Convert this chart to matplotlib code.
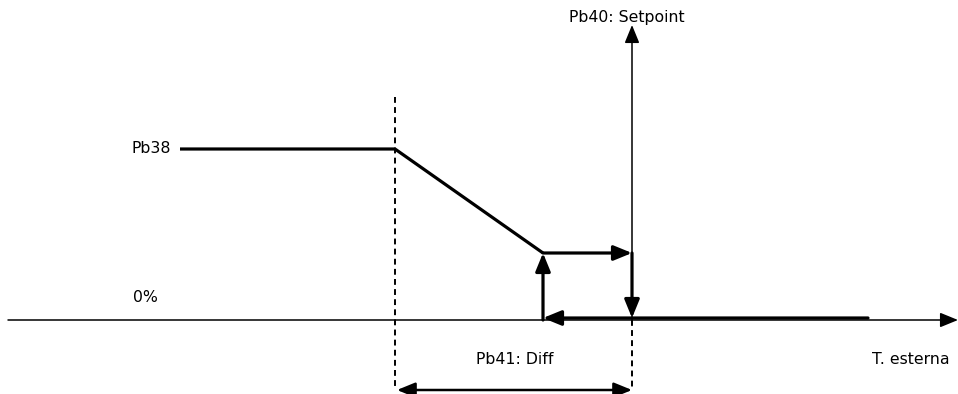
import matplotlib.pyplot as plt

# diagram geometry in pixel units (x right, y down)
axis_y = 320
x_pb38_start = 180
x_pb38_end = 395
y_pb38 = 149
x_diff_start = 543
x_setpoint = 632
y_low = 253
x_return_end = 868
y_dim = 390

labels = ["Pb40: Setpoint", "Pb38", "0%", "Pb41: Diff", "T. esterna"]

fig = plt.figure(figsize=(9.58, 3.94), dpi=100)
ax = fig.add_axes([0, 0, 1, 1])
ax.set_xlim(0, 958)
ax.set_ylim(394, 0)
ax.axis("off")

head = "-|>,head_length=1.1,head_width=0.45"

# horizontal axis
ax.annotate("", xy=(958, axis_y), xytext=(8, axis_y),
            arrowprops=dict(arrowstyle=head, color="black", lw=1.1, shrinkA=0, shrinkB=0))

# setpoint vertical axis
ax.annotate("", xy=(x_setpoint, 25), xytext=(x_setpoint, axis_y),
            arrowprops=dict(arrowstyle=head, color="black", lw=1.1, shrinkA=0, shrinkB=0))

# dashed guides
ax.plot([x_pb38_end, x_pb38_end], [97, y_dim], ls=(0, (3, 2.2)), color="black", lw=1.4)
ax.plot([x_setpoint, x_setpoint], [axis_y, y_dim], ls=(0, (3, 2.2)), color="black", lw=1.4)

# Pb38 plateau and ramp
ax.plot([x_pb38_start, x_pb38_end, x_diff_start], [y_pb38, y_pb38, y_low],
        color="black", lw=2.3, solid_capstyle="butt")

thick = dict(arrowstyle=head, color="black", lw=2.3, shrinkA=0, shrinkB=0)
ax.annotate("", xy=(x_diff_start, y_low), xytext=(x_diff_start, axis_y), arrowprops=thick)
ax.annotate("", xy=(x_setpoint, y_low), xytext=(x_diff_start, y_low), arrowprops=thick)
ax.annotate("", xy=(x_setpoint, axis_y - 2), xytext=(x_setpoint, y_low), arrowprops=thick)
ax.annotate("", xy=(x_diff_start, axis_y - 2), xytext=(x_return_end, axis_y - 2), arrowprops=thick)

# dimension arrow
ax.annotate("", xy=(x_pb38_end + 2, y_dim), xytext=(x_setpoint, y_dim),
            arrowprops=dict(arrowstyle="<|-|>,head_length=1.1,head_width=0.45", color="black", lw=1.8,
                            shrinkA=0, shrinkB=0))

fs = 11.3
ax.text(569, 17, labels[0], fontsize=fs, va="center", ha="left")
ax.text(171, 148, labels[1], fontsize=fs, va="center", ha="right")
ax.text(133, 298, labels[2], fontsize=fs, va="center", ha="left")
ax.text(515, 360, labels[3], fontsize=fs, va="center", ha="center")
ax.text(950, 360, labels[4], fontsize=fs, va="center", ha="right")

fig.savefig("out.png", dpi=100)
